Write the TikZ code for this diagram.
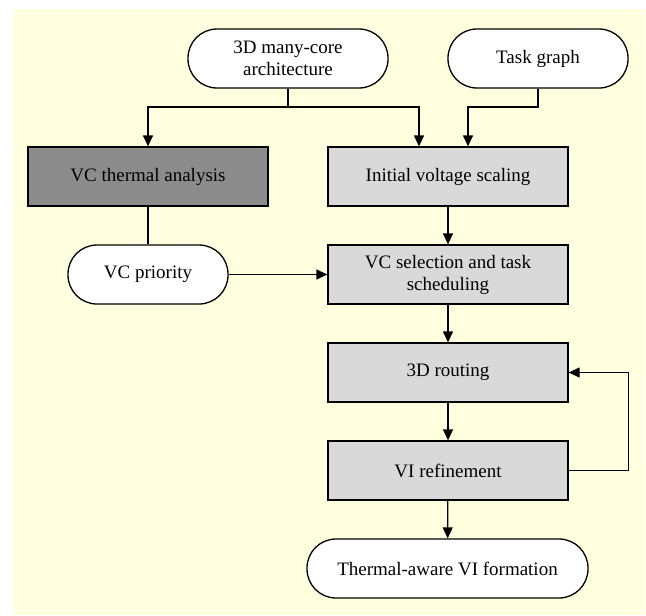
\documentclass[tikz,border=0pt]{standalone}
\usepackage{fontspec}
\setmainfont{Liberation Serif}
\usetikzlibrary{arrows.meta}

\definecolor{cream}{RGB}{255,255,224}
\definecolor{darkbox}{RGB}{140,140,140}
\definecolor{lightbox}{RGB}{217,217,217}

\tikzset{
    terminal/.style = {rectangle, rounded corners = 29pt, draw = black, fill = white,
        line width = 1.3pt, minimum height = 59pt, align = center,
        font = \fontsize{19}{22}\selectfont},
    stepbox/.style = {rectangle, draw = black, fill = lightbox, line width = 1.3pt,
        minimum width = 240pt, minimum height = 59pt, align = center,
        font = \fontsize{19}{22}\selectfont},
    arr/.style = {-{Triangle[length = 11pt, width = 10pt]}, line width = 1.3pt},
    line/.style = {line width = 1.3pt}
}

\begin{document}
\begin{tikzpicture}[x = 1pt, y = -1pt]

    \useasboundingbox (0,0) rectangle (646,616);
    \fill[cream] (13,9) rectangle (645,615);

    \node[terminal, minimum width = 200pt] (arch) at (288,58.5) {3D many-core\\architecture};
    \node[terminal, minimum width = 180pt] (task) at (538,58.5) {Task graph};

    \node[stepbox, fill = darkbox] (thermal) at (148,176.5) {VC thermal analysis};
    \node[stepbox] (init) at (448,176.5) {Initial voltage scaling};

    \node[terminal, minimum width = 160pt] (prio) at (148,274.5) {VC priority};
    \node[stepbox] (select) at (448,274.5) {VC selection and task\\scheduling};

    \node[stepbox] (route) at (448,372.5) {3D routing};
    \node[stepbox] (refine) at (448,470.5) {VI refinement};

    \node[terminal, minimum width = 281pt] (out) at (447.5,568.5) {Thermal-aware VI formation};

    \coordinate (archj) at (288,107);
    \coordinate (taskj) at (538,107);

      \draw[line] (arch.south) -- (archj);
      \draw[arr] (archj) -| (thermal.north);
      \draw[arr] (archj) -| ([xshift = -29pt]init.north);
      \draw[arr] (task.south) -- (taskj) -| ([xshift = 20pt]init.north);

      \draw[line] (thermal) -- (prio);
      \draw[arr] (prio) -- (select);

      \draw[arr] (init) -- (select);
      \draw[arr] (select) -- (route);
      \draw[arr] (route) -- (refine);
      \draw[arr] (refine) -- (out);
      \draw[arr] (refine.east) -- ++(60,0) |- (route.east);
  \end{tikzpicture}
\end{document}
